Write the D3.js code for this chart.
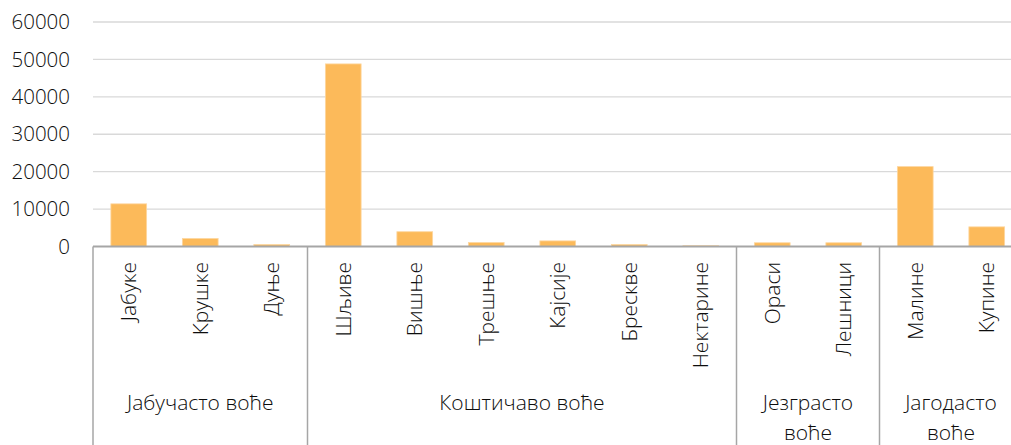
<!DOCTYPE html>
<html><head><meta charset="utf-8">
<script src="https://cdn.jsdelivr.net/npm/d3@7"></script>
<style>
html,body{margin:0;padding:0;background:#fff;overflow:hidden;}
text{font-family:"Open Sans",sans-serif;font-weight:300;fill:#0d0d0d;}
</style></head>
<body>
<svg id="chart" width="1011" height="445"></svg>
<script>
const categories = ["Јабуке","Крушке","Дуње","Шљиве","Вишње","Трешње","Кајсије","Брескве","Нектарине","Ораси","Лешници","Малине","Купине"];
const values = [11400, 2150, 520, 48800, 3950, 1050, 1500, 520, 200, 1000, 1000, 21350, 5250];
const groups = ["Јабучасто воће","Коштичаво воће","Језграсто\nвоће","Јагодасто\nвоће"];
const groupSizes = [3, 6, 2, 2];
const yTicks = [0, 10000, 20000, 30000, 40000, 50000, 60000];

(function(){
const svg = d3.select("#chart");
const W = 1011, H = 445;
const mLeft = 93, mBottom = 246.5, mTop = 22;
const x = d3.scaleBand().domain(categories).range([mLeft, mLeft + 71.5*categories.length]).paddingInner(0.5).paddingOuter(0.25);
const y = d3.scaleLinear().domain([0, 60000]).range([mBottom, mTop]);

// gridlines
svg.append("g").selectAll("line").data(yTicks.filter(d=>d>0)).join("line")
  .attr("x1", mLeft).attr("x2", W).attr("y1", d=>y(d)).attr("y2", d=>y(d))
  .attr("stroke", "#d9d9d9").attr("stroke-width", 1.3);

// y labels
svg.append("g").selectAll("text").data(yTicks).join("text")
  .attr("x", 70).attr("y", d=>y(d)).attr("dy", "0.35em")
  .attr("text-anchor", "end").attr("font-size", 20.5)
  .text(d=>d);

// bars
svg.append("g").selectAll("rect").data(categories).join("rect")
  .attr("x", d=>x(d)).attr("width", x.bandwidth())
  .attr("y", (d,i)=>y(values[i])).attr("height", (d,i)=>mBottom - y(values[i]))
  .attr("fill", "#fcba5a").attr("stroke", "#fdd7a0").attr("stroke-width", 0.8);

// axis line
svg.append("line").attr("x1", mLeft).attr("x2", W).attr("y1", mBottom).attr("y2", mBottom)
  .attr("stroke", "#a6a6a6").attr("stroke-width", 2);

// group separators
const step = x.step();
let idx = 0;
const bounds = [0];
groupSizes.forEach(s=>{ idx += s; bounds.push(idx); });
const xb = i => mLeft + i*step;
svg.append("g").selectAll("line").data(bounds.slice(0, -1)).join("line")
  .attr("x1", d=>xb(d)).attr("x2", d=>xb(d)).attr("y1", mBottom).attr("y2", H)
  .attr("stroke", "#a6a6a6").attr("stroke-width", 1.5);

// category labels
svg.append("g").selectAll("text").data(categories).join("text")
  .attr("transform", d=>`translate(${x(d)+x.bandwidth()/2},262) rotate(-90)`)
  .attr("text-anchor", "end").attr("dy", "0.35em").attr("font-size", 21)
  .text(d=>d);

// group labels
const gl = svg.append("g");
groups.forEach((g,i)=>{
  const cx = (xb(bounds[i]) + xb(bounds[i+1]))/2;
  const lines = g.split("\n");
  const t = gl.append("text").attr("text-anchor","middle").attr("font-size",21);
  lines.forEach((ln,j)=>{
    t.append("tspan").attr("x", cx).attr("y", 403 + j*30).attr("dy","0.35em").text(ln);
  });
});
})();
</script>
</body></html>
